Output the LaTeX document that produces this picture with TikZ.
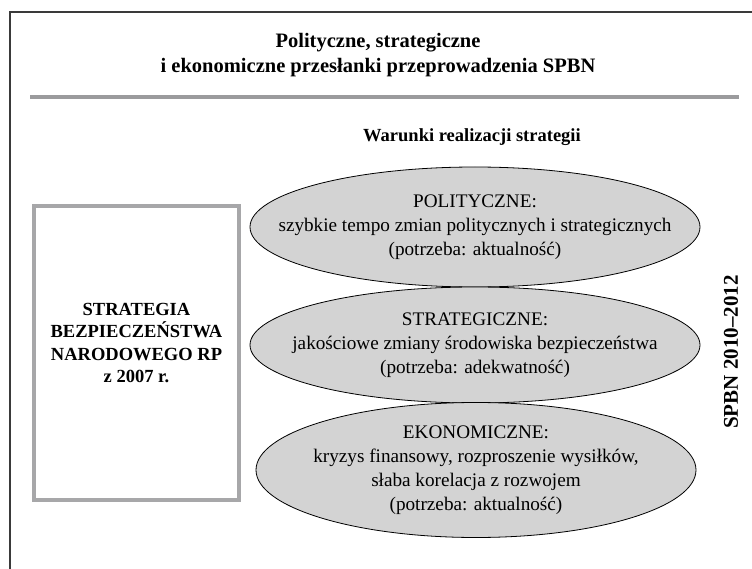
\documentclass[tikz,border=0pt]{standalone}
\usepackage{fontspec}
\setmainfont{Liberation Serif}
\usetikzlibrary{shapes.geometric}
\definecolor{ramka}{HTML}{A7A7A9}
\definecolor{kreska}{HTML}{9B9B9D}
\definecolor{elipsa}{HTML}{D3D3D3}
\definecolor{brzeg}{HTML}{3A3A3A}
\tikzset{
  war/.style={shape=ellipse, draw=black, line width=0.8pt, fill=elipsa, inner xsep=-90pt, inner ysep=-20pt,
    align=center, font=\fontsize{19.2}{24}\selectfont}
}

\begin{document}
\begin{tikzpicture}[x=1pt,y=-1pt]
		\useasboundingbox (0,0) rectangle (752,569);
		\draw[brzeg, line width=1.6pt] (10,569) -- (10,12) -- (752,12);

		\node[align=center, font=\fontsize{20.5}{25}\selectfont\bfseries] (tytul) at (378,55)
			{Polityczne, strategiczne\\ i ekonomiczne przesłanki przeprowadzenia SPBN};
		\draw[kreska, line width=3.5pt] (30,97) -- (739,97);
		\node[font=\fontsize{18.5}{22}\selectfont\bfseries] (warunki) at (472,137) {Warunki realizacji strategii};

		\node[draw=ramka, line width=4pt, minimum width=205, minimum height=294, align=center,
			font=\fontsize{18.5}{22.5}\selectfont\bfseries] (sbn) at (136.5,353)
			{STRATEGIA\\ BEZPIECZEŃSTWA\\ NARODOWEGO RP\\ z 2007 r.\\[-2pt]};

		\node[war, minimum width=450, minimum height=120] (pol) at (475,227)
			{POLITYCZNE:\\ szybkie tempo zmian politycznych i strategicznych\\ (potrzeba: aktualność)};
		\node[war, minimum width=450, minimum height=116] (str) at (475,345)
			{STRATEGICZNE:\\ jakościowe zmiany środowiska bezpieczeństwa\\ (potrzeba: adekwatność)};
		\node[war, minimum width=440, minimum height=135] (eko) at (476,470)
			{EKONOMICZNE:\\ kryzys finansowy, rozproszenie wysiłków,\\ słaba korelacja z rozwojem\\ (potrzeba: aktualność)};

		\node[rotate=90, font=\fontsize{21}{25}\selectfont\bfseries] (spbn) at (731,352) {SPBN 2010--2012};
	\end{tikzpicture}
\end{document}
